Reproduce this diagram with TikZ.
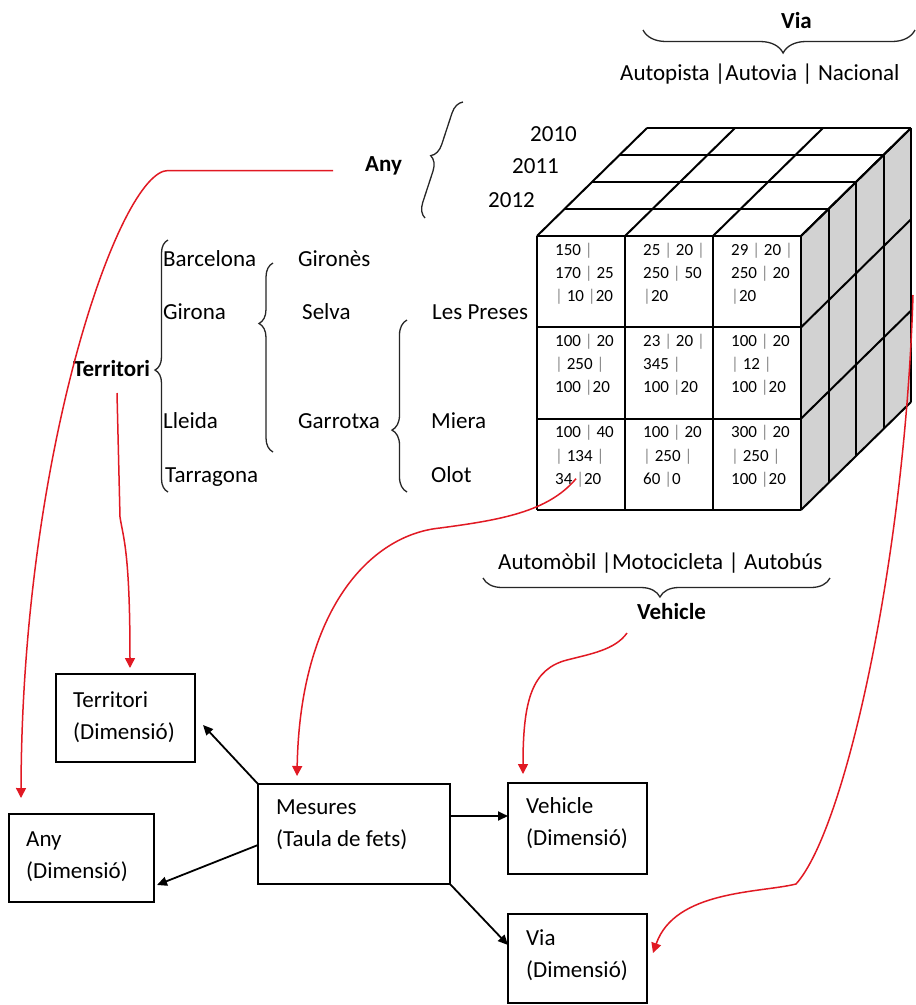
\documentclass[tikz,border=0pt]{standalone}
\usepackage{fontspec}
\setmainfont{Carlito}
\usetikzlibrary{arrows.meta,decorations.pathreplacing,calc}
\newcommand\txtlines[1]{\begin{tabular}[t]{@{}l@{}}#1\end{tabular}}
\newcommand\cellbar{{\color{black!45}|}}
\definecolor{arrowred}{RGB}{225,25,35}
\definecolor{sidegray}{RGB}{210,210,210}
\begin{document}
\begin{tikzpicture}[x=1pt,y=-1pt,
  lbl/.style={inner sep=0pt, anchor=base west, font=\fontsize{23}{32}\selectfont},
  blbl/.style={inner sep=0pt, anchor=base west, font=\fontsize{23}{32}\selectfont\bfseries},
  celltxt/.style={inner sep=0pt, anchor=base west, font=\fontsize{17}{23.3}\selectfont},
  dimbox/.style={draw, line width=1.8pt, anchor=north west, inner sep=0pt, outer sep=0pt},
  cubeline/.style={line width=2pt, line join=round},
  brc/.style={draw=black!85, line width=1.3pt, decorate},
  redarrow/.style={draw=arrowred, line width=1.5pt, -{Triangle[width=10pt,length=10pt]}},
  blackarrow/.style={draw=black, line width=1.8pt, -{Triangle[width=9pt,length=10pt]}},
]
\useasboundingbox (0,0) rectangle (916,1005);
\fill[white] (0,0) rectangle (916,1005);

% ---------- data cube: 3 x 3 front face, four layers deep ----------
% each layer is shifted by (27.5, -27) from the one in front of it
\fill[sidegray] (801,236) -- (801,510) -- (911,402) -- (911,128) -- cycle;
\fill[white] (537,236) -- (801,236) -- (911,128) -- (647,128) -- cycle;
\fill[white] (537,236) rectangle (801,510);
\foreach \k in {0,...,4}
  \draw[cubeline] ({801+27.5*\k},{236-27*\k}) -- ({801+27.5*\k},{510-27*\k});
\foreach \j in {0,...,3}
  \draw[cubeline] (801,{236+91.33*\j}) -- (911,{128+91.33*\j});
\foreach \k in {0,...,4}
  \draw[cubeline] ({537+27.5*\k},{236-27*\k}) -- ({801+27.5*\k},{236-27*\k});
\foreach \i in {0,...,3}
  \draw[cubeline] ({537+88*\i},236) -- ({647+88*\i},128);
\foreach \i in {0,...,3}
  \draw[cubeline, line width=2.3pt] ({537+88*\i},236) -- ({537+88*\i},510);
\foreach \j in {0,...,3}
  \draw[cubeline, line width=2.3pt] (537,{236+91.33*\j}) -- (801,{236+91.33*\j});
\coordinate (cubeEdge) at (913,295);

% cell values
\node[celltxt] (c11) at (555,255) {\txtlines{150 \cellbar\\170 \cellbar{} 25\\\cellbar{} 10 \cellbar20}};
\node[celltxt] (c12) at (643,255) {\txtlines{25 \cellbar{} 20 \cellbar\\250 \cellbar{} 50\\\cellbar20}};
\node[celltxt] (c13) at (731,255) {\txtlines{29 \cellbar{} 20 \cellbar\\250 \cellbar{} 20\\\cellbar20}};
\node[celltxt] (c21) at (555,346.3) {\txtlines{100 \cellbar{} 20\\\cellbar{} 250 \cellbar\\100 \cellbar20}};
\node[celltxt] (c22) at (643,346.3) {\txtlines{23 \cellbar{} 20 \cellbar\\345 \cellbar\\100 \cellbar20}};
\node[celltxt] (c23) at (731,346.3) {\txtlines{100 \cellbar{} 20\\\cellbar{} 12 \cellbar\\100 \cellbar20}};
\node[celltxt] (c31) at (555,437.7) {\txtlines{100 \cellbar{} 40\\\cellbar{} 134 \cellbar\\34 \cellbar20}};
\node[celltxt] (c32) at (643,437.7) {\txtlines{100 \cellbar{} 20\\\cellbar{} 250 \cellbar\\60 \cellbar0}};
\node[celltxt] (c33) at (731,437.7) {\txtlines{300 \cellbar{} 20\\\cellbar{} 250 \cellbar\\100 \cellbar20}};

% ---------- Via axis ----------
\node[blbl] (viaLbl) at (781,28) {Via};
\draw[brc, decoration={brace, amplitude=23pt, aspect=0.485}] (915,30) -- (643,30);
\node[lbl] (viaVals) at (620,80) {Autopista |Autovia | Nacional};

% ---------- Any axis ----------
\node[blbl] (anyLbl) at (365,171.5) {Any};
\draw[brc, decoration={brace, amplitude=14pt}] (425,218) -- (463,102);
\node[lbl] (y2010) at (530,141) {2010};
\node[lbl] (y2011) at (512,173) {2011};
\node[lbl] (y2012) at (488,207) {2012};

% ---------- Territori hierarchy ----------
\node[blbl] (terrLbl) at (73,376) {Territori};
\draw[brc, decoration={brace, amplitude=13pt, aspect=0.484}] (168,492) -- (168,240);
\node[lbl] (bcn) at (163,266) {Barcelona};
\node[lbl] (gir) at (163,319) {Girona};
\node[lbl] (lle) at (163,428) {Lleida};
\node[lbl] (tar) at (165,482) {Tarragona};
\draw[brc, decoration={brace, amplitude=14pt, aspect=0.68}] (273,452) -- (273,263);
\node[lbl] (gns) at (298,266) {Gironès};
\node[lbl] (sel) at (302,319) {Selva};
\node[lbl] (gar) at (298,428) {Garrotxa};
\draw[brc, decoration={brace, amplitude=15pt, aspect=0.36}] (407,492) -- (407,320);
\node[lbl] (lpr) at (432,319) {Les Preses};
\node[lbl] (mie) at (431,428) {Miera};
\node[lbl] (olo) at (431,482) {Olot};

% ---------- Vehicle axis ----------
\node[lbl] (vehVals) at (498,569) {Automòbil |Motocicleta | Autobús};
\draw[brc, decoration={brace, amplitude=19pt, aspect=0.49}] (830,578) -- (483,578);
\node[blbl] (vehLbl) at (637,619) {Vehicle};

% ---------- star schema ----------
\node[dimbox, minimum width=139pt, minimum height=88pt] (terrBox) at (56,674) {};
\node[lbl] (terrBoxT) at (73,707) {\txtlines{Territori\\(Dimensió)}};
\node[dimbox, minimum width=145pt, minimum height=88pt] (anyBox) at (9,814) {};
\node[lbl] (anyBoxT) at (26,846) {\txtlines{Any\\(Dimensió)}};
\node[dimbox, minimum width=192pt, minimum height=100pt] (mesBox) at (258,784) {};
\node[lbl] (mesBoxT) at (276,814) {\txtlines{Mesures\\(Taula de fets)}};
\node[dimbox, minimum width=139pt, minimum height=91pt] (vehBox) at (508,783) {};
\node[lbl] (vehBoxT) at (526,813) {\txtlines{Vehicle\\(Dimensió)}};
\node[dimbox, minimum width=139pt, minimum height=89pt] (viaBox) at (508,914) {};
\node[lbl] (viaBoxT) at (526,945) {\txtlines{Via\\(Dimensió)}};

\draw[blackarrow] (mesBox.north west) -- ($(terrBox.north east)+(8,51)$);
\draw[blackarrow] ($(mesBox.north west)+(0,61)$) -- ($(anyBox.north east)+(3,71)$);
\draw[blackarrow] ($(mesBox.north east)+(0,32)$) -- ($(vehBox.north west)+(0,33)$);
\draw[blackarrow] (mesBox.south east) -- ($(viaBox.north west)+(0,31)$);

% ---------- red links from the cube axes to the tables ----------
\draw[redarrow] ($(anyLbl.base west)+(-32,-1)$) -- (168,170.5)
  .. controls (120,170.5) and (22,450) .. ($(anyBox.north west)+(12,-16)$);
\draw[redarrow] ($(terrLbl.base west)+(44,17)$) -- (120,517)
  .. controls (123,537) and (130,550) .. ($(terrBox.north west)+(74,-6)$);
\draw[redarrow] ($(c31.base west)+(21,41)$) .. controls (548,512) and (500,520) .. (440,528)
  .. controls (370,535) and (300,610) .. ($(mesBox.north west)+(39,-8)$);
\draw[redarrow] ($(vehLbl.base west)+(-10,14)$) .. controls (615,650) and (590,654) .. (567,660)
  .. controls (532,669) and (523,700) .. ($(vehBox.north west)+(15,-9)$);
\draw[redarrow] (cubeEdge) .. controls (905,560) and (845,830) .. (796,884)
  .. controls (760,893) and (675,890) .. ($(viaBox.north east)+(6,39)$);
\end{tikzpicture}
\end{document}
